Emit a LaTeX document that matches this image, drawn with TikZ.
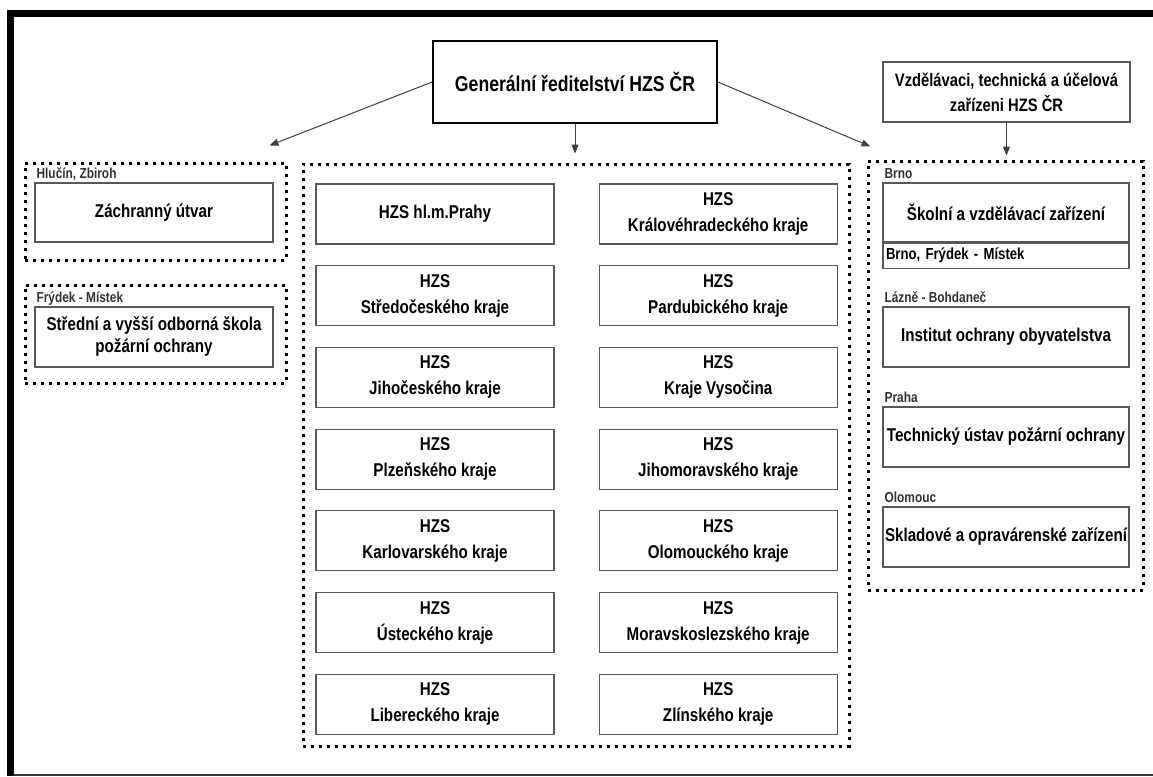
\documentclass[tikz,border=0pt]{standalone}
\usepackage{fontspec}
\setmainfont{Liberation Sans}[FakeStretch=0.82]
\usetikzlibrary{positioning}
\usetikzlibrary {arrows.meta}
\tikzset{hzsbox/.style={rectangle,draw=black!65,line width=1.2pt,fill=white,
inner sep=2pt,minimum height=60pt, minimum width=238pt,align=center,
font=\fontsize{18.5}{26}\selectfont\bfseries}}
\tikzset{hzsgroup/.style={rectangle,draw=black,line width=3pt,
dash pattern=on 3pt off 5pt,inner sep=0pt}}
\tikzset{placelabel/.style={inner sep=0pt,anchor=base west,text=black!80,
font=\fontsize{14.5}{17}\selectfont\bfseries}}
\tikzset{orgarrow/.style={draw=black!75,line width=1pt,-{Triangle[length=9pt,width=7pt]}}}

\begin{document}
\begin{tikzpicture}[x=1pt,y=-1pt]

        \useasboundingbox (0,0) rectangle (1153,776);
        \fill[black] (7,10) rectangle (1153,17);
        \fill[black] (7,10) rectangle (14,776);
        \fill[black!80] (14,773.5) rectangle (1153,775.5);

        \node[hzsbox,draw=black,line width=1.8pt,minimum width=284pt,minimum height=82pt,
              font=\fontsize{21.5}{26}\selectfont\bfseries] (genred) at (575,82) {Generální ředitelství HZS ČR};
        \node[hzsbox,minimum width=247pt,font=\fontsize{18}{25}\selectfont\bfseries] (vzdel) at (1006.5,92) {Vzdělávaci, technická a účelová\\zařízeni HZS ČR};

        \node[hzsgroup,minimum width=261pt,minimum height=97pt] (grpzachr) at (155.5,211.5) {};
        \node[hzsgroup,minimum width=261pt,minimum height=98pt] (grpskola) at (155.5,334) {};
        \node[hzsgroup,minimum width=546pt,minimum height=582pt] (grpkraje) at (576,455) {};
        \node[hzsgroup,minimum width=275pt,minimum height=429pt] (grpzariz) at (1005.5,375.5) {};

        \node[hzsbox,minimum height=59pt] (zachran) at (154,212.5) {Záchranný útvar};
        \node[hzsbox,font=\fontsize{18.5}{22}\selectfont\bfseries] (skola) at (154,337) {Střední a vyšší odborná škola\\požární ochrany};
        \node[placelabel] (lblzachran) at ([xshift=2pt,yshift=4pt]zachran.north west) {Hlučín, Zbiroh};
        \node[placelabel] (lblskola) at ([xshift=2pt,yshift=4pt]skola.north west) {Frýdek - Místek};

        \node[hzsbox] (praha) at (435,214) {HZS hl.m.Prahy};
        \node[hzsbox] (stredo) [below=20.5pt of praha] {HZS\\Středočeského kraje};
        \node[hzsbox] (jihoc) [below=20.5pt of stredo] {HZS\\Jihočeského kraje};
        \node[hzsbox] (plzen) [below=20.5pt of jihoc] {HZS\\Plzeňského kraje};
        \node[hzsbox] (karlov) [below=20.5pt of plzen] {HZS\\Karlovarského kraje};
        \node[hzsbox] (ustec) [below=20.5pt of karlov] {HZS\\Ústeckého kraje};
        \node[hzsbox] (liber) [below=20.5pt of ustec] {HZS\\Libereckého kraje};

        \node[hzsbox] (hradec) [right=44pt of praha] {HZS\\Královéhradeckého kraje};
        \node[hzsbox] (pardub) [below=20.5pt of hradec] {HZS\\Pardubického kraje};
        \node[hzsbox] (vysoc) [below=20.5pt of pardub] {HZS\\Kraje Vysočina};
        \node[hzsbox] (jihom) [below=20.5pt of vysoc] {HZS\\Jihomoravského kraje};
        \node[hzsbox] (olom) [below=20.5pt of jihom] {HZS\\Olomouckého kraje};
        \node[hzsbox] (morav) [below=20.5pt of olom] {HZS\\Moravskoslezského kraje};
        \node[hzsbox] (zlin) [below=20.5pt of morav] {HZS\\Zlínského kraje};

        \node[hzsbox,minimum width=246pt,minimum height=59pt] (skolni) at (1006,212.5) {Školní a vzdělávací zařízení};
        \node[hzsbox,minimum width=246pt,minimum height=25pt,text width=240pt,align=left,inner sep=3pt,
              font=\fontsize{16}{18}\selectfont\bfseries] (skolnimista) [below=0pt of skolni] {Brno, Frýdek - Místek};
        \node[hzsbox,minimum width=246pt] (institut) at (1006,337) {Institut ochrany obyvatelstva};
        \node[hzsbox,minimum width=246pt] (tuspo) at (1006,437) {Technický ústav požární ochrany};
        \node[hzsbox,minimum width=246pt] (sklad) at (1006,537) {Skladové a opravárenské zařízení};
        \node[placelabel] (lblskolni) at ([xshift=2pt,yshift=4pt]skolni.north west) {Brno};
        \node[placelabel] (lblinstitut) at ([xshift=2pt,yshift=4pt]institut.north west) {Lázně - Bohdaneč};
        \node[placelabel] (lbltuspo) at ([xshift=2pt,yshift=4pt]tuspo.north west) {Praha};
        \node[placelabel] (lblsklad) at ([xshift=2pt,yshift=4pt]sklad.north west) {Olomouc};

        \coordinate (tipzachr) at ([xshift=-18pt,yshift=16pt]grpzachr.north east);
        \coordinate (tipkraje) at ([yshift=9pt]grpkraje.north);
        \coordinate (tipzariz) at ([xshift=4pt,yshift=13pt]grpzariz.north west);
        \coordinate (tipvzdel) at ([yshift=4pt]vzdel.south |- grpzariz.north);
        \draw[orgarrow] (genred.west) -- (tipzachr);
        \draw[orgarrow] (genred.south) -- (genred.south |- tipkraje);
        \draw[orgarrow] (genred.east) -- (tipzariz);
        \draw[orgarrow] (vzdel.south) -- (tipvzdel);

\end{tikzpicture}
\end{document}
